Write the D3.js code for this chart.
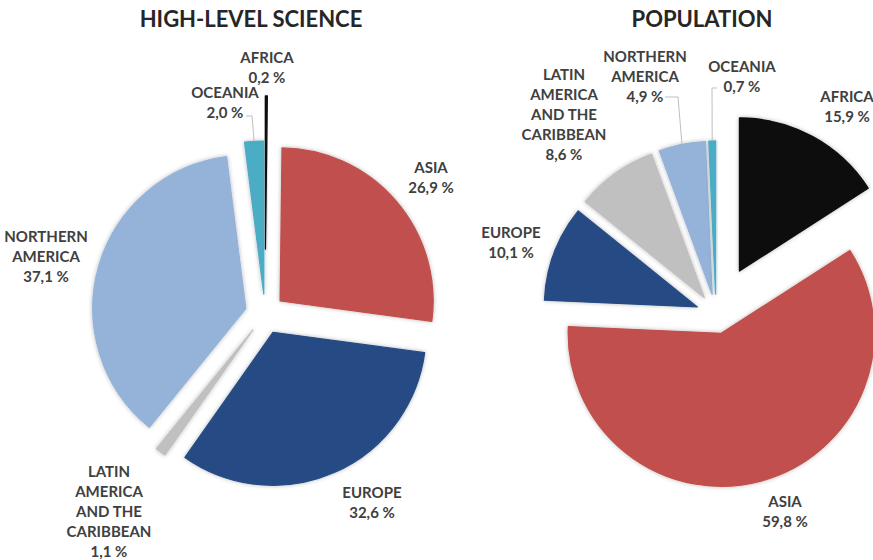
<!DOCTYPE html>
<html><head><meta charset="utf-8">
<script src="https://cdn.jsdelivr.net/npm/d3@7"></script>
<style>
html,body{margin:0;padding:0;background:#fff;}
svg{display:block;font-family:Lato,"Open Sans",sans-serif;}
</style></head><body>
<svg id="chart" width="873" height="560"></svg>
<script>
// Regions in slice order, clockwise from 12 o'clock
const regions = ["AFRICA", "ASIA", "EUROPE", "LATIN AMERICA AND THE CARIBBEAN", "NORTHERN AMERICA", "OCEANIA"];
const labelLines = [["AFRICA"], ["ASIA"], ["EUROPE"], ["LATIN", "AMERICA", "AND THE", "CARIBBEAN"], ["NORTHERN", "AMERICA"], ["OCEANIA"]];
// Shares in percent
const scienceShare = [0.2, 26.9, 32.6, 1.1, 37.1, 2.0];
const populationShare = [15.9, 59.8, 10.1, 8.6, 4.9, 0.7];
const chartTitles = ["HIGH-LEVEL SCIENCE", "POPULATION"];
const regionColors = ["#0a0a0a", "#c0504d", "#264c84", "#c0c0c0", "#95b3d9", "#4bacc6"];

const svg = d3.select("#chart");
const R = 153;
const lineGap = 20;

const locale = d3.formatLocale({decimal: ",", thousands: " ", grouping: [3], currency: ["", ""]});
const fmt = v => locale.format(".1f")(v) + " %";

const defs = svg.append("defs");
defs.append("filter").attr("id", "soft").attr("x", "-30%").attr("y", "-30%").attr("width", "160%").attr("height", "160%")
  .append("feDropShadow").attr("dx", 0).attr("dy", 0).attr("stdDeviation", 2.2)
  .attr("flood-color", "#000").attr("flood-opacity", 0.28);

// Panel layout: pie centre, explode distances, label anchors (centre x, first baseline)
const panels = [
  {title: chartTitles[0], values: scienceShare, cx: 265, cy: 314, titleX: 251,
   explode: [65, 20, 20, 20, 20, 20],
   labels: [[267, 63], [431, 173], [372, 498], [109, 477], [46, 242], [225, 98]],
   leaders: {5: [246, 116, 252]}},
  {title: chartTitles[1], values: populationShare, cx: 716, cy: 314, titleX: 702,
   explode: [49, 20, 20, 20, 20, 20],
   labels: [[847, 102], [785, 507], [511, 238], [564, 80], [645, 62], [742, 72]],
   leaders: {4: [665, 97, 678], 5: [717, 88, 712]}}
];

const pie = d3.pie().sort(null).value(d => d);
const arc = d3.arc().innerRadius(0).outerRadius(R);

panels.forEach(p => {
  const g = svg.append("g");
  g.append("text")
    .attr("x", p.titleX).attr("y", 27)
    .attr("text-anchor", "middle")
    .attr("font-size", 22).attr("font-weight", 700)
    .attr("fill", "#262626")
    .text(p.title);

  const arcs = pie(p.values);
  const mid = a => (a.startAngle + a.endAngle) / 2;

  g.selectAll("path.slice").data(arcs).join("path")
    .attr("class", "slice")
    .attr("transform", (a, i) => {
      const m = mid(a), off = p.explode[i];
      return `translate(${p.cx + off * Math.sin(m)},${p.cy - off * Math.cos(m)})`;
    })
    .attr("d", arc)
    .attr("fill", (a, i) => regionColors[i])
    .attr("stroke", (a, i) => regionColors[i])
    .attr("stroke-width", 1.3)
    .attr("stroke-linejoin", "round")
    .attr("filter", "url(#soft)");

  // leader lines from label to outer edge of the slice
  Object.entries(p.leaders).forEach(([k, s]) => {
    const a = arcs[+k], m = mid(a), off = p.explode[+k];
    const ex = p.cx + (off + R) * Math.sin(m), ey = p.cy - (off + R) * Math.cos(m);
    g.append("path")
      .attr("d", `M${s[0]},${s[1]}H${s[2]}L${ex},${ey}`)
      .attr("fill", "none").attr("stroke", "#bfbfbf").attr("stroke-width", 1);
  });

  arcs.forEach((a, i) => {
    const [lx, ly] = p.labels[i];
    const lines = labelLines[i].concat([fmt(p.values[i])]);
    const t = g.append("text")
      .attr("text-anchor", "middle")
      .attr("font-size", 15).attr("font-weight", 700)
      .attr("fill", "#404040");
    lines.forEach((s, j) => {
      t.append("tspan").attr("x", lx).attr("y", ly + j * lineGap).text(s);
    });
  });
});
</script>
</body></html>
